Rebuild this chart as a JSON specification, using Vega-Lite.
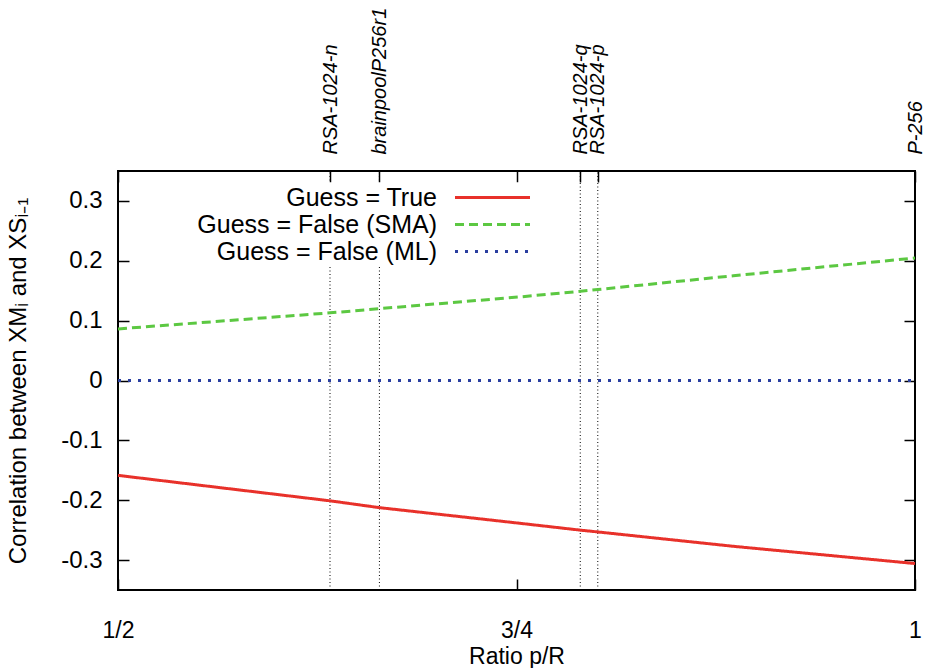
{
  "$schema": "https://vega.github.io/schema/vega-lite/v6.json",
  "width": 797,
  "height": 419,
  "autosize": {"type": "none"},
  "padding": {"left": 118, "top": 171, "right": 16, "bottom": 78},
  "config": {
    "font": "Liberation Sans",
    "view": {"stroke": "black", "strokeWidth": 2},
    "axis": {"grid": false, "domain": false, "tickColor": "black", "tickWidth": 1.5, "tickSize": -11, "labelColor": "black", "titleColor": "black", "labelFlush": false, "labelOverlap": false, "labelBound": false, "titleFontWeight": "normal"}
  },
  "datasets": {
    "curves": [
      {"ratio": 0.5, "corr": -0.1585, "series": "Guess = True"},
      {"ratio": 0.564, "corr": -0.179, "series": "Guess = True"},
      {"ratio": 0.633, "corr": -0.201, "series": "Guess = True"},
      {"ratio": 0.664, "corr": -0.2124, "series": "Guess = True"},
      {"ratio": 0.752, "corr": -0.2385, "series": "Guess = True"},
      {"ratio": 0.79, "corr": -0.25, "series": "Guess = True"},
      {"ratio": 0.801, "corr": -0.253, "series": "Guess = True"},
      {"ratio": 0.886, "corr": -0.277, "series": "Guess = True"},
      {"ratio": 1.0, "corr": -0.3058, "series": "Guess = True"},
      {"ratio": 0.5, "corr": 0.0862, "series": "Guess = False (SMA)"},
      {"ratio": 0.633, "corr": 0.113, "series": "Guess = False (SMA)"},
      {"ratio": 0.664, "corr": 0.12, "series": "Guess = False (SMA)"},
      {"ratio": 0.752, "corr": 0.1396, "series": "Guess = False (SMA)"},
      {"ratio": 0.79, "corr": 0.149, "series": "Guess = False (SMA)"},
      {"ratio": 0.801, "corr": 0.152, "series": "Guess = False (SMA)"},
      {"ratio": 0.886, "corr": 0.175, "series": "Guess = False (SMA)"},
      {"ratio": 1.0, "corr": 0.2047, "series": "Guess = False (SMA)"},
      {"ratio": 0.5, "corr": 0, "series": "Guess = False (ML)"},
      {"ratio": 0.75, "corr": 0, "series": "Guess = False (ML)"},
      {"ratio": 1.0, "corr": 0, "series": "Guess = False (ML)"}
    ],
    "markers": [
      {"ratio": 0.633, "name": "RSA-1024-n"},
      {"ratio": 0.664, "name": "brainpoolP256r1"},
      {"ratio": 0.79, "name": "RSA-1024-q"},
      {"ratio": 0.801, "name": "RSA-1024-p"},
      {"ratio": 1.0, "name": "P-256"}
    ]
  },
  "resolve": {"axis": {"x": "independent", "y": "independent"}},
  "layer": [
    {
      "data": {"name": "markers"},
      "mark": {"type": "rule", "color": "black", "strokeWidth": 1, "strokeDash": [1, 2.5]},
      "encoding": {
        "x": {
          "field": "ratio", "type": "quantitative",
          "scale": {"domain": [0.5, 1], "nice": false, "zero": false},
          "axis": {
            "orient": "top", "title": null,
            "values": [0.5, 0.633, 0.664, 0.75, 0.79, 0.801, 1.0],
            "labelExpr": "datum.value == 0.633 ? 'RSA-1024-n' : datum.value == 0.664 ? 'brainpoolP256r1' : datum.value == 0.79 ? 'RSA-1024-q' : datum.value == 0.801 ? 'RSA-1024-p' : datum.value == 1 ? 'P-256' : ''",
            "labelAngle": 270, "labelAlign": "left", "labelBaseline": "middle",
            "labelFontSize": 20, "labelFontStyle": "italic", "labelPadding": 28
          }
        },
        "y": {
          "datum": -0.35, "type": "quantitative",
          "scale": {"domain": [-0.35, 0.35], "nice": false, "zero": false},
          "axis": {"orient": "right", "title": null, "labels": false, "values": [-0.3, -0.2, -0.1, 0, 0.1, 0.2, 0.3]}
        },
        "y2": {"datum": 0.35}
      }
    },
    {
      "data": {"name": "curves"},
      "mark": {"type": "line", "strokeWidth": 3},
      "encoding": {
        "x": {
          "field": "ratio", "type": "quantitative",
          "axis": {
            "orient": "bottom", "title": "Ratio p/R",
            "values": [0.5, 0.75, 1],
            "labelExpr": "datum.value == 0.5 ? '1/2' : datum.value == 0.75 ? '3/4' : '1'",
            "labelFontSize": 23, "labelPadding": 40,
            "titleFontSize": 23, "titleY": 73, "titleBaseline": "alphabetic"
          }
        },
        "y": {
          "field": "corr", "type": "quantitative",
          "axis": {
            "orient": "left", "title": "Correlation between XMᵢ and XSᵢ₋₁",
            "values": [-0.3, -0.2, -0.1, 0, 0.1, 0.2, 0.3],
            "labelExpr": "'' + round(datum.value * 10) / 10",
            "labelFontSize": 24, "labelPadding": 27,
            "titleFontSize": 24, "titleX": -100, "titleY": 209.5, "titleBaseline": "middle", "titleAngle": 270
          }
        },
        "color": {
          "field": "series", "type": "nominal",
          "scale": {"domain": ["Guess = True", "Guess = False (SMA)", "Guess = False (ML)"], "range": ["#e8312a", "#5cc842", "#2a3fa0"]},
          "legend": {
            "title": null, "orient": "none", "legendX": 61, "legendY": 11.5, "zindex": 1,
            "padding": 1, "fillColor": "white", "strokeColor": null,
            "symbolType": "M-3,0H3", "symbolSize": 625, "symbolStrokeWidth": 3, "symbolOffset": 298.5,
            "rowPadding": -1.5,
            "labelAlign": "right", "labelOffset": -69.5, "labelFontSize": 25, "labelLimit": 400, "labelColor": "black"
          }
        },
        "strokeDash": {
          "field": "series", "type": "nominal",
          "scale": {"domain": ["Guess = True", "Guess = False (SMA)", "Guess = False (ML)"], "range": [[1, 0], [9, 5], [3, 7]]},
          "legend": null
        }
      }
    }
  ]
}
